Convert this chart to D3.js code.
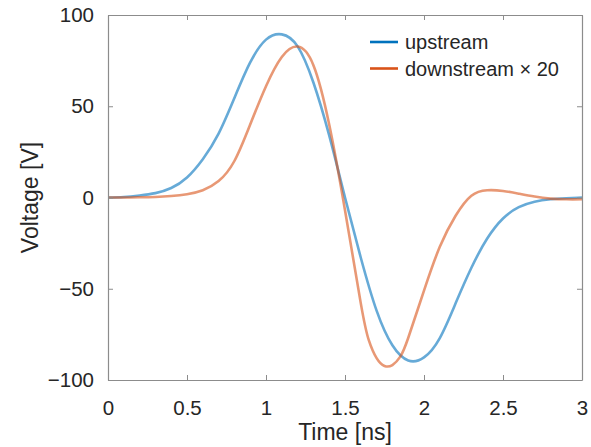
<!DOCTYPE html>
<head>
  <meta charset="utf-8">
  <script src="https://d3js.org/d3.v7.min.js"></script>
  <style>
    body { margin:0; background:#fff; }
    svg { display:block; }
    text { font-family: "Liberation Sans", Arial, sans-serif; fill:#262626; }
  </style>
</head>
<body>
  <svg width="591" height="447"></svg>
  <script>
    // upstream voltage
    var tUp = [0, 0.1, 0.2, 0.3, 0.4, 0.5, 0.6, 0.7, 0.8, 0.9, 1.0, 1.1, 1.2, 1.3, 1.4, 1.5, 1.6, 1.7, 1.8, 1.9, 2.0, 2.1, 2.2, 2.3, 2.4, 2.5, 2.6, 2.7, 2.8, 2.9, 3.0];
    var vUp = [0, 0.3, 1.1, 2.4, 5.2, 11, 21, 35, 54.5, 74, 86.5, 89.4, 82.8, 63, 34, 0, -33, -62, -81, -89.3, -87.6, -77, -58, -38.5, -22.5, -11.5, -5.3, -2.3, -1, -0.4, 0];
    // downstream voltage x 20
    var tDown = [0, 0.1, 0.2, 0.3, 0.4, 0.5, 0.6, 0.7, 0.8, 0.9, 1.0, 1.1, 1.2, 1.3, 1.4, 1.5, 1.6, 1.65, 1.7, 1.75, 1.8, 1.85, 1.9, 2.0, 2.1, 2.2, 2.3, 2.4, 2.5, 2.6, 2.7, 2.8, 2.9, 3.0];
    var vDown = [0, 0, 0.1, 0.3, 0.8, 1.8, 4, 9, 20, 40, 61, 77, 82.7, 72.5, 40, -7, -58, -78, -88, -92.3, -91.8, -87.2, -77, -51, -27, -10, 1, 4, 3.6, 2.1, 0.5, -0.6, -1, -1];

    var xTicks = [0, 0.5, 1, 1.5, 2, 2.5, 3];
    var yTicks = [-100, -50, 0, 50, 100];
    var seriesNames = ['upstream', 'downstream \u00d7 20'];
    var colors = ['#0072BD', '#D95319'];

    var margin = {top: 15, right: 9, bottom: 67, left: 108};
    var width = 591, height = 447;

    var svg = d3.select('svg');
    var x = d3.scaleLinear().domain([0, 3]).range([margin.left, width - margin.right]);
    var y = d3.scaleLinear().domain([-100, 100]).range([height - margin.bottom, margin.top]);

    var series = [
      tUp.map((t, i) => ({t: t, v: vUp[i]})),
      tDown.map((t, i) => ({t: t, v: vDown[i]}))
    ];

    var line = d3.line()
      .x(d => x(d.t))
      .y(d => y(d.v))
      .curve(d3.curveNatural);

    series.forEach((s, i) => {
      svg.append('path')
        .attr('d', line(s))
        .attr('fill', 'none')
        .attr('stroke', colors[i])
        .attr('stroke-opacity', 0.6)
        .attr('stroke-width', 2.6);
    });

    // axes: box with inward ticks on all sides
    var axisColor = '#8c8c8c';
    var axBottom = svg.append('g')
      .attr('transform', 'translate(0,' + y(-100) + ')')
      .call(d3.axisBottom(x).tickValues(xTicks).tickSizeInner(-5).tickSizeOuter(0).tickPadding(20).tickFormat(d3.format('')));
    var axTop = svg.append('g')
      .attr('transform', 'translate(0,' + y(100) + ')')
      .call(d3.axisTop(x).tickValues(xTicks).tickSizeInner(-5).tickSizeOuter(0).tickFormat(''));
    var axLeft = svg.append('g')
      .attr('transform', 'translate(' + x(0) + ',0)')
      .call(d3.axisLeft(y).tickValues(yTicks).tickSizeInner(-5).tickSizeOuter(0).tickPadding(14));
    var axRight = svg.append('g')
      .attr('transform', 'translate(' + x(3) + ',0)')
      .call(d3.axisRight(y).tickValues(yTicks).tickSizeInner(-5).tickSizeOuter(0).tickFormat(''));

    [axBottom, axTop, axLeft, axRight].forEach(g => {
      g.selectAll('.domain').attr('stroke', axisColor).attr('stroke-width', 1.2);
      g.selectAll('.tick line').attr('stroke', axisColor);
      g.selectAll('.tick text')
        .style('font-family', '"Liberation Sans", Arial, sans-serif')
        .style('font-size', '20.5px')
        .attr('fill', '#262626');
    });

    svg.append('text')
      .attr('x', (x(0) + x(3)) / 2)
      .attr('y', 440)
      .attr('text-anchor', 'middle')
      .style('font-size', '23px')
      .text('Time [ns]');

    svg.append('text')
      .attr('transform', 'translate(38,' + y(0) + ') rotate(-90)')
      .attr('text-anchor', 'middle')
      .style('font-size', '23px')
      .text('Voltage [V]');

    // legend
    var legend = svg.append('g');
    seriesNames.forEach((name, i) => {
      var ly = 42 + i * 26.5;
      legend.append('line')
        .attr('x1', 370).attr('x2', 398)
        .attr('y1', ly).attr('y2', ly)
        .attr('stroke', colors[i])
        .attr('stroke-width', 2.6);
      legend.append('text')
        .attr('x', 405)
        .attr('y', ly + 7)
        .style('font-size', '20px')
        .text(name);
    });
  </script>
</body>
